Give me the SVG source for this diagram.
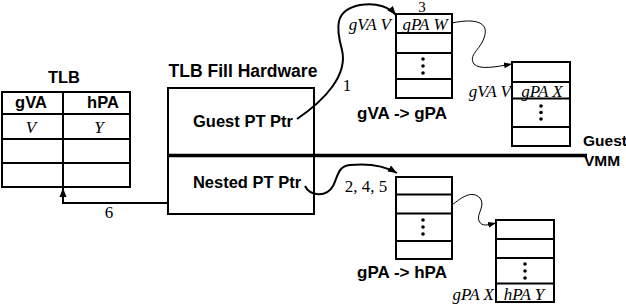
<svg xmlns="http://www.w3.org/2000/svg" width="626" height="306" viewBox="0 0 626 306">
<style>
.bx{fill:none;stroke:#000;stroke-width:2}
.ln{stroke:#000;stroke-width:2}
.b{font-family:"Liberation Sans",Arial,sans-serif;font-weight:bold;font-size:16.5px;fill:#000}
.it{font-family:"Liberation Serif","Times New Roman",serif;font-style:italic;font-size:17px;fill:#000}
.n{font-family:"Liberation Serif","Times New Roman",serif;font-size:17px;fill:#000}
.dot{fill:#000}
.c{fill:none;stroke:#000}
</style>
<defs>
<marker id="ah" markerUnits="userSpaceOnUse" markerWidth="10" markerHeight="8" refX="9" refY="4" orient="auto">
<path d="M0,0.5 L9,4 L0,7.5 Z" fill="#000"/>
</marker>
<marker id="ahs" markerUnits="userSpaceOnUse" markerWidth="9" markerHeight="7" refX="8" refY="3.5" orient="auto">
<path d="M0,0.5 L8,3.5 L0,6.5 Z" fill="#000"/>
</marker>
</defs>

<g id="tlb">
<text class="b" x="64" y="83" text-anchor="middle">TLB</text>
<rect class="bx" x="2" y="92" width="128" height="95"/>
<line class="ln" x1="2" y1="114" x2="130" y2="114"/>
<line class="ln" x1="2" y1="139" x2="130" y2="139"/>
<line class="ln" x1="2" y1="163" x2="130" y2="163"/>
<line class="ln" x1="63" y1="92" x2="63" y2="187"/>
<text class="b" x="31" y="108" text-anchor="middle">gVA</text>
<text class="b" x="103" y="108" text-anchor="middle">hPA</text>
<text class="it" x="31" y="133" text-anchor="middle">V</text>
<text class="it" x="99" y="133" text-anchor="middle">Y</text>
</g>

<g id="fill-hw">
<text class="b" x="243" y="77" text-anchor="middle" style="font-size:17.5px">TLB Fill Hardware</text>
<rect class="bx" x="168" y="88" width="146" height="126"/>
<text class="b" x="243" y="127" text-anchor="middle">Guest PT Ptr</text>
<text class="b" x="247" y="188" text-anchor="middle">Nested PT Ptr</text>
</g>

<g id="boundary">
<line x1="168" y1="155.5" x2="587" y2="155.5" stroke="#000" stroke-width="3.5"/>
<text class="b" x="583" y="146" style="font-size:15.5px">Guest</text>
<text class="b" x="584" y="166" style="font-size:15.5px">VMM</text>
</g>

<g id="gpt1">
<rect class="bx" x="396" y="14" width="56" height="84"/>
<line class="ln" x1="396" y1="33" x2="452" y2="33"/>
<line class="ln" x1="396" y1="53" x2="452" y2="53"/>
<line class="ln" x1="396" y1="79" x2="452" y2="79"/>
<circle class="dot" cx="423" cy="59" r="1.8"/>
<circle class="dot" cx="423" cy="66" r="1.8"/>
<circle class="dot" cx="423" cy="73" r="1.8"/>
<text class="n" x="422" y="12" text-anchor="middle" style="font-size:15px">3</text>
<text class="it" x="391" y="29.5" text-anchor="end">gVA V</text>
<text class="it" x="425" y="29.5" text-anchor="middle">gPA W</text>
</g>

<g id="gpt2">
<rect class="bx" x="512" y="62" width="58" height="84"/>
<line class="ln" x1="512" y1="82" x2="570" y2="82"/>
<line class="ln" x1="512" y1="98.5" x2="570" y2="98.5"/>
<line class="ln" x1="512" y1="127" x2="570" y2="127"/>
<circle class="dot" cx="541" cy="106" r="1.8"/>
<circle class="dot" cx="541" cy="112.5" r="1.8"/>
<circle class="dot" cx="541" cy="119" r="1.8"/>
<text class="it" x="511" y="97" text-anchor="end">gVA V</text>
<text class="it" x="542" y="97" text-anchor="middle">gPA X</text>
<text class="b" x="402" y="119" text-anchor="middle" style="font-size:17px">gVA -&gt; gPA</text>
</g>

<g id="npt1">
<rect class="bx" x="396" y="177" width="56" height="82"/>
<line class="ln" x1="396" y1="194.5" x2="452" y2="194.5"/>
<line class="ln" x1="396" y1="213.5" x2="452" y2="213.5"/>
<line class="ln" x1="396" y1="241" x2="452" y2="241"/>
<circle class="dot" cx="423" cy="220" r="1.8"/>
<circle class="dot" cx="423" cy="227" r="1.8"/>
<circle class="dot" cx="423" cy="234" r="1.8"/>
<text class="b" x="402" y="278" text-anchor="middle" style="font-size:17px">gPA -&gt; hPA</text>
</g>

<g id="npt2">
<rect class="bx" x="496" y="220" width="58" height="82"/>
<line class="ln" x1="496" y1="239" x2="554" y2="239"/>
<line class="ln" x1="496" y1="258" x2="554" y2="258"/>
<line class="ln" x1="496" y1="283.5" x2="554" y2="283.5"/>
<circle class="dot" cx="525" cy="264" r="1.8"/>
<circle class="dot" cx="525" cy="271" r="1.8"/>
<circle class="dot" cx="525" cy="278" r="1.8"/>
<text class="it" x="494" y="300" text-anchor="end">gPA X</text>
<text class="it" x="524" y="300" text-anchor="middle">hPA Y</text>
</g>

<g id="connectors">
<path class="c" stroke-width="2" d="M297,119 C325,100 348,75 342,50 C336,28 334,10 360,5 C378,2 390,8 396,15" marker-end="url(#ah)"/>
<text class="n" x="347" y="91" text-anchor="middle">1</text>
<path class="c" stroke-width="1" d="M452,23 C475,18 490,22 484,38 C480,50 468,55 474,64 C480,70 495,67 512,64" marker-end="url(#ahs)"/>
<path class="c" stroke-width="2" d="M305,186 C310,196 326,198 333,186 C338,176 338,166 350,165 C370,163 385,166 397,173" marker-end="url(#ah)"/>
<text class="n" x="366" y="192" text-anchor="middle">2, 4, 5</text>
<path class="c" stroke-width="1" d="M452,205 C462,197 472,190 480,198 C486,206 476,214 479,221 C482,227 488,225 496,223" marker-end="url(#ahs)"/>
<path class="c" stroke-width="2" d="M168,203 H63 V188" marker-end="url(#ah)"/>
<text class="n" x="109" y="218" text-anchor="middle">6</text>
</g>
</svg>
